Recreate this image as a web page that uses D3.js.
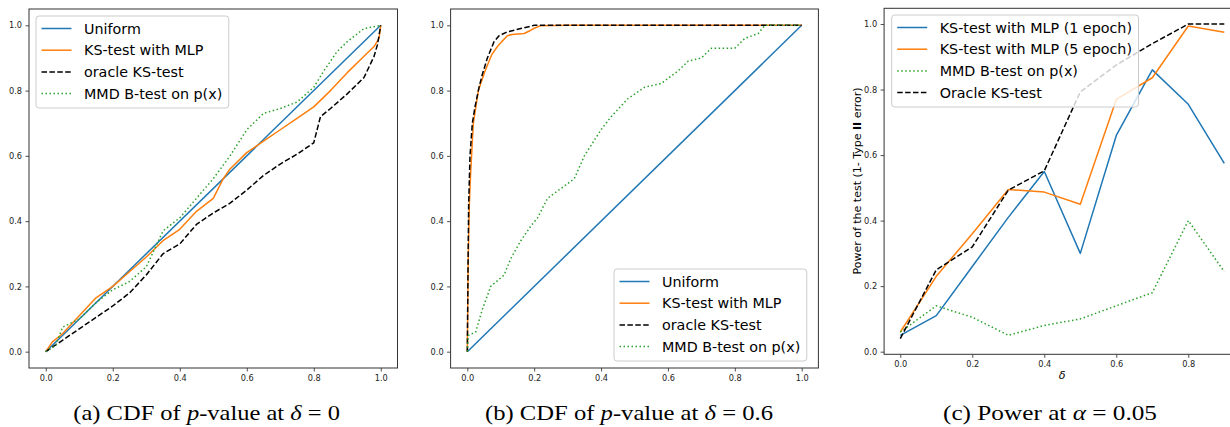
<!DOCTYPE html>
<html><head><meta charset="utf-8">
<script src="https://cdn.jsdelivr.net/npm/d3@7"></script>
<style>
html,body{margin:0;padding:0;background:#fff;}
svg{display:block;}
</style></head>
<body>
<svg id="chart" width="1230" height="427"></svg>
<script>
// ---------- DATA ----------
// Panel (a): CDF of p-value at delta = 0
const aUniformX = [0, 1];
const aUniformY = [0, 1];
const aMlpX = [0,0.02,0.05,0.1,0.15,0.2,0.25,0.3,0.35,0.4,0.45,0.5,0.53,0.55,0.6,0.65,0.7,0.75,0.8,0.85,0.9,0.95,0.98,0.995,1.0];
const aMlpY = [0,0.03,0.055,0.11,0.165,0.2,0.245,0.29,0.34,0.375,0.43,0.47,0.53,0.56,0.61,0.645,0.68,0.715,0.75,0.8,0.855,0.905,0.935,0.96,1.0];
const aOracleX = [0,0.05,0.1,0.15,0.2,0.25,0.3,0.35,0.4,0.45,0.5,0.55,0.6,0.65,0.7,0.75,0.8,0.82,0.85,0.9,0.95,0.98,0.99,1.0];
const aOracleY = [0,0.035,0.07,0.105,0.14,0.18,0.235,0.3,0.33,0.39,0.425,0.455,0.495,0.54,0.575,0.605,0.64,0.72,0.745,0.79,0.84,0.905,0.94,1.0];
const aMmdX = [0,0.03,0.05,0.1,0.15,0.2,0.25,0.3,0.35,0.4,0.45,0.5,0.55,0.6,0.65,0.7,0.75,0.8,0.83,0.87,0.9,0.95,1.0];
const aMmdY = [0,0.02,0.075,0.1,0.15,0.19,0.215,0.26,0.37,0.41,0.47,0.53,0.6,0.68,0.73,0.745,0.765,0.81,0.86,0.92,0.95,0.99,1.0];

// Panel (b): CDF of p-value at delta = 0.6
const bUniformX = [0, 1];
const bUniformY = [0, 1];
const bMlpX = [0,0.003,0.006,0.01,0.018,0.033,0.053,0.073,0.09,0.103,0.12,0.133,0.17,0.19,0.2,0.22,0.3,1.0];
const bMlpY = [0,0.3,0.45,0.55,0.7,0.8,0.86,0.91,0.935,0.95,0.968,0.972,0.975,0.985,0.991,0.999,1.0,1.0];
const bOracleX = [0,0.002,0.004,0.008,0.015,0.023,0.035,0.045,0.06,0.08,0.095,0.12,0.16,0.2,1.0];
const bOracleY = [0,0.25,0.45,0.6,0.7,0.75,0.81,0.85,0.9,0.95,0.968,0.98,0.99,1.0,1.0];
const bMmdX = [0,0.003,0.025,0.045,0.07,0.11,0.13,0.16,0.19,0.21,0.24,0.28,0.32,0.35,0.4,0.43,0.48,0.53,0.58,0.63,0.66,0.7,0.73,0.8,0.83,0.87,0.89,1.0];
const bMmdY = [0,0.05,0.06,0.13,0.2,0.235,0.285,0.34,0.385,0.41,0.47,0.5,0.53,0.6,0.68,0.72,0.775,0.81,0.822,0.86,0.89,0.9,0.93,0.93,0.96,0.975,1.0,1.0];

// Panel (c): Power at alpha = 0.05
const cDelta = [0,0.1,0.2,0.3,0.4,0.5,0.6,0.7,0.8,0.9];
const cMlp1 = [0.05,0.11,0.26,0.41,0.55,0.30,0.66,0.86,0.755,0.575];
const cMlp5 = [0.06,0.23,0.36,0.495,0.487,0.45,0.77,0.836,0.994,0.975];
const cMmd = [0.06,0.14,0.105,0.05,0.08,0.10,0.14,0.18,0.40,0.244];
const cOracle = [0.04,0.25,0.32,0.493,0.552,0.793,0.875,0.94,1.0,1.0];

const cdfTicks = [0,0.2,0.4,0.6,0.8,1.0];
const powerXTicks = [0,0.2,0.4,0.6,0.8];
const powerYTicks = [0,0.2,0.4,0.6,0.8,1.0];

const legendAB = ["Uniform","KS-test with MLP","oracle KS-test","MMD B-test on p(x)"];
const legendC = ["KS-test with MLP (1 epoch)","KS-test with MLP (5 epoch)","MMD B-test on p(x)","Oracle KS-test"];

// ---------- STYLE ----------
const BLUE = "#1f77b4", ORANGE = "#ff7f0e", GREEN = "#2ca02c", BLACK = "#000";
const styles = {
  uniform: {color: BLUE, dash: null},
  mlp: {color: ORANGE, dash: null},
  oracle: {color: BLACK, dash: "5.5,2.4"},
  mmd: {color: GREEN, dash: "1.5,2.5"}
};

const svg = d3.select("#chart");
const zip = (xs, ys) => xs.map((x, i) => [x, ys[i]]);
function padded(vals) {
  const [lo, hi] = d3.extent(vals);
  const m = (hi - lo) * 0.05;
  return [lo - m, hi + m];
}

function drawPanel(cfg) {
  const g = svg.append("g");
  const allX = cfg.series.flatMap(s => s.pts.map(p => p[0]));
  const allY = cfg.series.flatMap(s => s.pts.map(p => p[1]));
  const x = d3.scaleLinear().domain(padded(allX)).range(cfg.xr);
  const y = d3.scaleLinear().domain(padded(allY)).range(cfg.yr);

  const clipId = "clip" + cfg.id;
  g.append("clipPath").attr("id", clipId).append("rect")
    .attr("x", cfg.xr[0]).attr("y", cfg.yr[1])
    .attr("width", cfg.xr[1] - cfg.xr[0]).attr("height", cfg.yr[0] - cfg.yr[1]);

  const line = d3.line().x(d => x(d[0])).y(d => y(d[1]));
  const lg = g.append("g").attr("clip-path", `url(#${clipId})`);
  cfg.series.forEach(s => {
    lg.append("path").attr("d", line(s.pts))
      .attr("fill", "none").attr("stroke", s.st.color).attr("stroke-width", 1.5)
      .attr("stroke-dasharray", s.st.dash).attr("stroke-linejoin", "round");
  });

  // axes
  const ax = g.append("g").attr("transform", `translate(0,${cfg.yr[0]})`)
    .call(d3.axisBottom(x).tickValues(cfg.xt).tickFormat(d3.format(".1f")).tickSize(3.5).tickPadding(3.5));
  const ay = g.append("g").attr("transform", `translate(${cfg.xr[0]},0)`)
    .call(d3.axisLeft(y).tickValues(cfg.yt).tickFormat(d3.format(".1f")).tickSize(3.5).tickPadding(3.5));
  [ax, ay].forEach(a => {
    a.select(".domain").remove();
    a.selectAll("text").attr("font-family", "DejaVu Sans").attr("font-size", 8.2).attr("fill", "#222");
    a.selectAll("line").attr("stroke", "#222").attr("stroke-width", 0.8);
  });

  // frame
  g.append("rect").attr("x", cfg.xr[0]).attr("y", cfg.yr[1])
    .attr("width", cfg.xr[1] - cfg.xr[0]).attr("height", cfg.yr[0] - cfg.yr[1])
    .attr("fill", "none").attr("stroke", "#333").attr("stroke-width", 1);

  // legend
  const L = cfg.legend;
  const leg = g.append("g");
  const box = leg.append("rect").attr("x", L.x).attr("y", L.y).attr("rx", 3)
    .attr("fill", "#fff").attr("fill-opacity", 0.8).attr("stroke", "#ccc").attr("stroke-width", 1);
  let maxW = 0;
  L.items.forEach((it, i) => {
    const cy = L.y + 12.5 + i * 21.7;
    leg.append("line").attr("x1", L.x + 5.5).attr("x2", L.x + 35.5).attr("y1", cy).attr("y2", cy)
      .attr("stroke", it.st.color).attr("stroke-width", 1.5).attr("stroke-dasharray", it.st.dash);
    const t = leg.append("text").attr("x", L.x + 48).attr("y", cy + 5.2)
      .attr("font-family", "DejaVu Sans").attr("font-size", 14.3).attr("fill", "#000").text(it.label);
    maxW = Math.max(maxW, t.node().getComputedTextLength());
  });
  box.attr("width", 48 + maxW + 6.5).attr("height", 92);
  return {x, y, g};
}

drawPanel({
  id: "a", xr: [29, 397.5], yr: [368, 9], xt: cdfTicks, yt: cdfTicks,
  series: [
    {pts: zip(aUniformX, aUniformY), st: styles.uniform},
    {pts: zip(aMlpX, aMlpY), st: styles.mlp},
    {pts: zip(aOracleX, aOracleY), st: styles.oracle},
    {pts: zip(aMmdX, aMmdY), st: styles.mmd}
  ],
  legend: {x: 36, y: 16, items: [
    {label: legendAB[0], st: styles.uniform},
    {label: legendAB[1], st: styles.mlp},
    {label: legendAB[2], st: styles.oracle},
    {label: legendAB[3], st: styles.mmd}]}
});

drawPanel({
  id: "b", xr: [450.6, 818.4], yr: [368, 9], xt: cdfTicks, yt: cdfTicks,
  series: [
    {pts: zip(bUniformX, bUniformY), st: styles.uniform},
    {pts: zip(bMlpX, bMlpY), st: styles.mlp},
    {pts: zip(bOracleX, bOracleY), st: styles.oracle},
    {pts: zip(bMmdX, bMmdY), st: styles.mmd}
  ],
  legend: {x: 614, y: 269, items: [
    {label: legendAB[0], st: styles.uniform},
    {label: legendAB[1], st: styles.mlp},
    {label: legendAB[2], st: styles.oracle},
    {label: legendAB[3], st: styles.mmd}]}
});

drawPanel({
  id: "c", xr: [884.1, 1240.5], yr: [354.3, 8.3], xt: powerXTicks, yt: powerYTicks,
  series: [
    {pts: zip(cDelta, cMlp1), st: styles.uniform},
    {pts: zip(cDelta, cMlp5), st: styles.mlp},
    {pts: zip(cDelta, cMmd), st: styles.mmd},
    {pts: zip(cDelta, cOracle), st: styles.oracle}
  ],
  legend: {x: 891.7, y: 15, items: [
    {label: legendC[0], st: styles.uniform},
    {label: legendC[1], st: styles.mlp},
    {label: legendC[2], st: styles.mmd},
    {label: legendC[3], st: styles.oracle}]}
});

// axis labels for (c)
const yl = svg.append("text").attr("transform", "translate(861,181) rotate(-90)")
  .attr("text-anchor", "middle").attr("font-family", "DejaVu Sans").attr("font-size", 11).attr("fill", "#000");
yl.append("tspan").text("Power of the test (1- Type ");
yl.append("tspan").attr("font-weight", "bold").text("II");
yl.append("tspan").text(" error)");
svg.append("text").attr("x", 1062).attr("y", 379).attr("text-anchor", "middle")
  .attr("font-family", "DejaVu Sans").attr("font-style", "italic").attr("font-size", 11).text("δ");

// captions
function caption(parts, x0, x1) {
  const t = svg.append("text").attr("x", x0).attr("y", 420)
    .attr("font-family", "Liberation Serif").attr("font-size", 22).attr("fill", "#000")
    .attr("textLength", x1 - x0).attr("lengthAdjust", "spacingAndGlyphs");
  parts.forEach(p => t.append("tspan").attr("font-style", p.i ? "italic" : null).text(p.t));
}
caption([{t: "(a) CDF of "}, {t: "p", i: 1}, {t: "-value at "}, {t: "δ", i: 1}, {t: " = 0"}], 73.3, 340);
caption([{t: "(b) CDF of "}, {t: "p", i: 1}, {t: "-value at "}, {t: "δ", i: 1}, {t: " = 0.6"}], 485, 773);
caption([{t: "(c) Power at "}, {t: "α", i: 1}, {t: " = 0.05"}], 943, 1157);
</script>
</body></html>
